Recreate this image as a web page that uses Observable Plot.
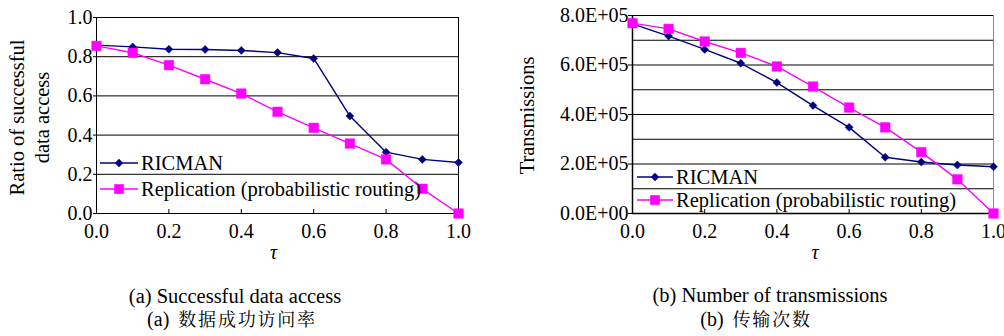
<!DOCTYPE html>
<html>
<head>
<meta charset="utf-8">
<script src="https://cdn.jsdelivr.net/npm/d3@7"></script>
<script src="https://cdn.jsdelivr.net/npm/@observablehq/plot@0.6"></script>
<style>
  html, body { margin: 0; padding: 0; background: #fff; }
  #root { position: relative; width: 1004px; height: 336px; overflow: hidden; font-family: 'Liberation Serif', 'Times New Roman', serif; color: #000; }
  .chart { position: absolute; top: 0; }
  .cap { position: absolute; text-align: center; white-space: pre; line-height: 24px; height: 24px; }
  .en { font-size: 20.5px; }
  .zh { font-size: 18px; font-family: 'Liberation Serif', 'Noto Serif CJK SC', serif; }
  .zh .pre { font-size: 20px; }
  .zh .cjk { letter-spacing: 1.8px; font-family: 'Noto Serif CJK SC', 'Noto Sans CJK SC', serif; }
  .leg { position: absolute; display: flex; align-items: center; height: 24px; font-size: 20.5px; white-space: pre; }
  .leg svg { display: block; margin-right: 3px; }
</style>
</head>
<body>
<div id="root"></div>
<script>
// ---------- data ----------
const tau = [0.0, 0.1, 0.2, 0.3, 0.4, 0.5, 0.6, 0.7, 0.8, 0.9, 1.0];
const ricmanAccess = [0.859, 0.850, 0.838, 0.837, 0.832, 0.821, 0.791, 0.497, 0.313, 0.276, 0.260];
const replicationAccess = [0.855, 0.820, 0.757, 0.685, 0.612, 0.519, 0.437, 0.357, 0.276, 0.126, 0.0];
const ricmanTx = [766000, 717000, 663000, 607000, 529000, 436000, 348000, 227000, 208000, 196000, 189000];
const replicationTx = [769000, 746000, 695000, 649000, 594000, 513000, 428000, 348000, 248000, 138000, 0];

const xTicks = [0.0, 0.2, 0.4, 0.6, 0.8, 1.0];
const leftYTicks = [0.0, 0.2, 0.4, 0.6, 0.8, 1.0];
const leftGrid = [0.2, 0.4, 0.6, 0.8, 1.0];
const rightYTicks = [0, 200000, 400000, 600000, 800000];
const rightGrid = [100000, 200000, 300000, 400000, 500000, 600000, 700000, 800000];

const seriesNames = ["RICMAN", "Replication (probabilistic routing)"];
const xLabel = "τ";
const leftYLabel = "Ratio of successful\ndata access";
const rightYLabel = "Transmissions";
const captionsEn = ["(a) Successful data access", "(b) Number of transmissions"];
const captionsZhPrefix = ["(a)", "(b)"];
const captionsZh = ["数据成功访问率", "传输次数"];

const navy = "#000080";
const magenta = "#ff00ff";

const leftRows = tau.map((t, i) => ({tau: t, ricman: ricmanAccess[i], replication: replicationAccess[i]}));
const rightRows = tau.map((t, i) => ({tau: t, ricman: ricmanTx[i], replication: replicationTx[i]}));

function sciFormat(d) {
  if (d === 0) return "0.0E+00";
  const e = Math.floor(Math.log10(d));
  const m = d / Math.pow(10, e);
  return m.toFixed(1) + "E+" + String(e).padStart(2, "0");
}

const baseStyle = {
  fontFamily: "'Liberation Serif', 'Times New Roman', serif",
  fontSize: "20px",
  color: "black",
  background: "transparent",
  overflow: "visible"
};

function seriesMarks(rows) {
  return [
    Plot.line(rows, {x: "tau", y: "ricman", stroke: navy, strokeWidth: 1.4}),
    Plot.line(rows, {x: "tau", y: "replication", stroke: magenta, strokeWidth: 1.4}),
    Plot.dot(rows, {x: "tau", y: "ricman", symbol: "diamond2", r: 3.6, fill: navy, stroke: navy, strokeWidth: 0.5}),
    Plot.dot(rows, {x: "tau", y: "replication", symbol: "square", r: 5.4, fill: magenta, stroke: magenta, strokeWidth: 0.5})
  ];
}

const leftChart = Plot.plot({
  width: 475, height: 275,
  marginLeft: 96, marginRight: 17, marginTop: 17, marginBottom: 62,
  style: baseStyle,
  x: {domain: [0, 1], ticks: xTicks, tickFormat: d => d.toFixed(1), tickSize: 0, tickPadding: 10, label: null},
  y: {domain: [0, 1], ticks: leftYTicks, tickFormat: d => d.toFixed(1), tickSize: 3, tickPadding: 1, label: null},
  marks: [
    Plot.ruleY(leftGrid, {y: d => d, stroke: "black", strokeWidth: 1}),
    Plot.frame({stroke: "black", strokeWidth: 1}),
    Plot.tickX(xTicks.slice(1, -1), {x: d => d, stroke: "black", insetTop: 192}),
    ...seriesMarks(leftRows),
    Plot.text([xLabel], {text: d => d, frameAnchor: "bottom", dy: 45, dx: -4, fontStyle: "italic", fontSize: 20}),
    Plot.text([leftYLabel], {text: d => d, frameAnchor: "left", textAnchor: "middle", lineAnchor: "middle", rotate: -90, dx: -68, dy: 2, lineHeight: 1.2, fontSize: 20.5})
  ]
});
leftChart.classList.add("chart");
leftChart.style.left = "0px";

const rightChart = Plot.plot({
  width: 504, height: 275,
  marginLeft: 132, marginRight: 11, marginTop: 15, marginBottom: 62,
  style: baseStyle,
  x: {domain: [0, 1], ticks: xTicks, tickFormat: d => d.toFixed(1), tickSize: 0, tickPadding: 10, label: null},
  y: {domain: [0, 800000], ticks: rightYTicks, tickFormat: sciFormat, tickSize: 4, tickPadding: 0, label: null},
  marks: [
    Plot.frame({stroke: "#888", strokeWidth: 1}),
    Plot.ruleY(rightGrid, {y: d => d, stroke: "black", strokeWidth: 1}),
    Plot.ruleY([0], {y: d => d, stroke: "black", strokeWidth: 1.5}),
    Plot.ruleX([0], {x: d => d, stroke: "black", strokeWidth: 1.5}),
    Plot.tickX(xTicks.slice(1, -1), {x: d => d, stroke: "black", insetTop: 194}),
    ...seriesMarks(rightRows),
    Plot.text([xLabel], {text: d => d, frameAnchor: "bottom", dy: 45, dx: 2, fontStyle: "italic", fontSize: 20}),
    Plot.text([rightYLabel], {text: d => d, frameAnchor: "left", textAnchor: "middle", lineAnchor: "middle", rotate: -90, dx: -105, dy: 1, fontSize: 20.5})
  ]
});
rightChart.classList.add("chart");
rightChart.style.left = "500px";

const root = document.getElementById("root");
root.appendChild(leftChart);
root.appendChild(rightChart);

// ---------- legends ----------
function sample(kind, w) {
  const ns = "http://www.w3.org/2000/svg";
  const svg = document.createElementNS(ns, "svg");
  svg.setAttribute("width", w);
  svg.setAttribute("height", 14);
  const line = document.createElementNS(ns, "line");
  line.setAttribute("x1", 0); line.setAttribute("x2", w);
  line.setAttribute("y1", 7); line.setAttribute("y2", 7);
  line.setAttribute("stroke", kind === 0 ? navy : magenta);
  line.setAttribute("stroke-width", 1.4);
  svg.appendChild(line);
  const c = w / 2;
  if (kind === 0) {
    const p = document.createElementNS(ns, "polygon");
    p.setAttribute("points", `${c},2.8 ${c + 4.2},7 ${c},11.2 ${c - 4.2},7`);
    p.setAttribute("fill", navy);
    svg.appendChild(p);
  } else {
    const r = document.createElementNS(ns, "rect");
    r.setAttribute("x", c - 4.8); r.setAttribute("y", 2.2);
    r.setAttribute("width", 9.6); r.setAttribute("height", 9.6);
    r.setAttribute("fill", magenta);
    svg.appendChild(r);
  }
  return svg;
}
function addLegend(left, tops, w) {
  seriesNames.forEach((name, i) => {
    const d = document.createElement("div");
    d.className = "leg";
    d.style.left = left + "px";
    d.style.top = (tops[i] - 12) + "px";
    d.appendChild(sample(i, w));
    const s = document.createElement("span");
    s.textContent = name;
    d.appendChild(s);
    root.appendChild(d);
  });
}
addLegend(100, [163, 189], 38);
addLegend(637, [177, 200], 36);

// ---------- captions ----------
function addCap(cls, cx, cy, w, parts) {
  const d = document.createElement("div");
  d.className = "cap " + cls;
  d.style.left = (cx - w / 2) + "px";
  d.style.width = w + "px";
  d.style.top = (cy - 12) + "px";
  parts.forEach(([text, pcls]) => {
    const s = document.createElement("span");
    if (pcls) s.className = pcls;
    s.textContent = text;
    d.appendChild(s);
  });
  root.appendChild(d);
}
addCap("en", 235, 296, 300, [[captionsEn[0], ""]]);
addCap("zh", 232, 318, 300, [[captionsZhPrefix[0], "pre"], ["  ", ""], [captionsZh[0], "cjk"]]);
addCap("en", 770, 295, 300, [[captionsEn[1], ""]]);
addCap("zh", 756, 318, 300, [[captionsZhPrefix[1], "pre"], ["  ", ""], [captionsZh[1], "cjk"]]);
</script>
</body>
</html>
